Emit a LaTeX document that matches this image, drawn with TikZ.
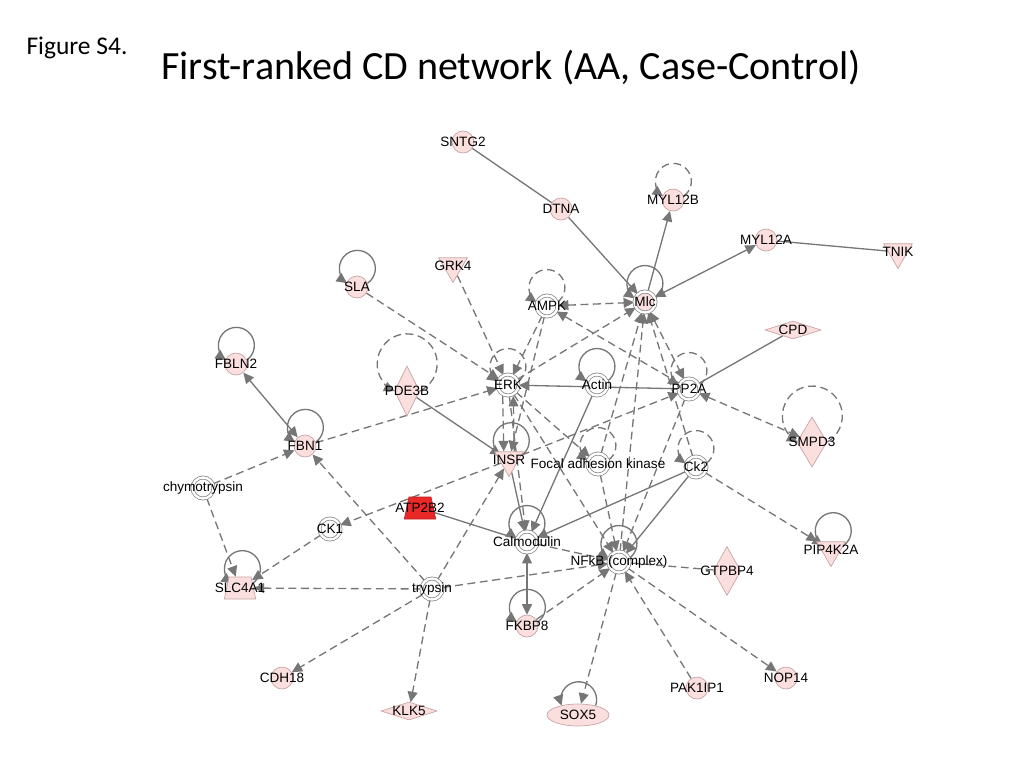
\documentclass[tikz,border=0pt]{standalone}
\usepackage{fontspec}
\setmainfont{Liberation Sans}
\newfontfamily\calibri{Carlito}
\usetikzlibrary{shapes.geometric,arrows.meta,backgrounds}
\definecolor{pinkfill}{RGB}{251,222,222}
\definecolor{pinkline}{RGB}{200,165,165}
\definecolor{edgegray}{RGB}{118,118,118}
\definecolor{atpred}{RGB}{235,40,40}
\tikzset{
 lbl/.style={font=\fontsize{7.7}{8}\selectfont, inner sep=0pt},
 gene/.style={circle, draw=pinkline, fill=pinkfill, minimum size=0.44cm, inner sep=0pt},
 cplx/.style={circle, draw=gray!90, line width=0.45pt, double=white, double distance=1.3pt, fill=white, minimum size=0.42cm, inner sep=0pt},
 tri/.style={regular polygon, regular polygon sides=3, shape border rotate=180, draw=pinkline, fill=pinkfill, minimum size=0.66cm, inner sep=0pt},
 dia/.style={diamond, draw=pinkline, fill=pinkfill, inner sep=0pt},
 trap/.style={trapezium, trapezium left angle=78, trapezium right angle=78, draw=pinkline, fill=pinkfill, minimum width=0.52cm, minimum height=0.44cm, inner sep=1pt},
 rel/.style={draw=edgegray, line width=0.75pt},
 arr/.style={rel, -{Triangle[length=2.1mm,width=2mm]}},
 barr/.style={rel, {Triangle[length=2.1mm,width=2mm]}-{Triangle[length=2.1mm,width=2mm]}},
 dsh/.style={dash pattern=on 4.5pt off 2.6pt}
}
\begin{document}
\begin{tikzpicture}[x=0.02cm,y=-0.02cm]
\useasboundingbox (0,0) rectangle (1024,768);
\node[font=\calibri\fontsize{14.5}{16}\selectfont] (figlabel) at (77,48) {Figure S4.};
\node[font=\calibri\fontsize{22.8}{26}\selectfont] (title) at (511,68) {First-ranked CD network (AA, Case-Control)};
\node[gene, label={[lbl]center:SNTG2}] (SNTG2) at (463,142) {};
\node[gene, label={[lbl]center:DTNA}] (DTNA) at (561,209) {};
\node[gene, label={[lbl]center:MYL12B}] (MYL12B) at (673,200) {};
\node[gene, label={[lbl]center:MYL12A}] (MYL12A) at (766,240) {};
\node[tri, label={[lbl]center:TNIK}] (TNIK) at (898,252) {};
\node[gene, label={[lbl]center:SLA}] (SLA) at (357,287) {};
\node[tri, label={[lbl]center:GRK4}] (GRK4) at (453,266) {};
\node[cplx, label={[lbl]center:AMPK}] (AMPK) at (547,306) {};
\node[cplx, fill=pinkfill, label={[lbl]center:Mlc}] (Mlc) at (645,302) {};
\node[dia, minimum width=1.12cm, minimum height=0.36cm, label={[lbl]center:CPD}] (CPD) at (793,330) {};
\node[gene, label={[lbl]center:FBLN2}] (FBLN2) at (236,364) {};
\node[dia, minimum width=0.5cm, minimum height=1.0cm, label={[lbl]center:PDE3B}] (PDE3B) at (407,391) {};
\node[cplx, label={[lbl]center:ERK}] (ERK) at (508,385) {};
\node[cplx, label={[lbl]center:Actin}] (Actin) at (597,385) {};
\node[cplx, label={[lbl]center:PP2A}] (PP2A) at (689,389) {};
\node[dia, minimum width=0.6cm, minimum height=1.0cm, label={[lbl]center:SMPD3}] (SMPD3) at (812,442) {};
\node[gene, label={[lbl]center:FBN1}] (FBN1) at (305,446) {};
\node[tri, label={[lbl]center:INSR}] (INSR) at (509,460) {};
\node[cplx, label={[lbl]center:Focal adhesion kinase}] (FAK) at (598,464) {};
\node[cplx, label={[lbl]center:Ck2}] (Ck2) at (696,467) {};
\node[cplx, label={[lbl]center:chymotrypsin}] (chymotrypsin) at (203,488) {};
\node[trap, fill=atpred, draw=atpred!80!black, label={[lbl]center:ATP2B2}] (ATP2B2) at (420,508) {};
\node[cplx, label={[lbl]center:CK1}] (CK1) at (330,529) {};
\node[cplx, label={[lbl]center:Calmodulin}] (Calmodulin) at (527,542) {};
\node[tri, label={[lbl]center:PIP4K2A}] (PIP4K2A) at (831,550) {};
\node[cplx, label={[lbl]center:NFkB (complex)}] (NFkB) at (619,562) {};
\node[dia, minimum width=0.55cm, minimum height=0.98cm, label={[lbl]center:GTPBP4}] (GTPBP4) at (727,571) {};
\node[trap, label={[lbl]center:SLC4A1}] (SLC4A1) at (240,588) {};
\node[cplx, label={[lbl]center:trypsin}] (trypsin) at (432,589) {};
\node[gene, label={[lbl]center:FKBP8}] (FKBP8) at (527,626) {};
\node[gene, label={[lbl]center:CDH18}] (CDH18) at (282,678) {};
\node[gene, label={[lbl]center:NOP14}] (NOP14) at (786,678) {};
\node[gene, label={[lbl]center:PAK1IP1}] (PAK1IP1) at (697,688) {};
\node[dia, minimum width=1.12cm, minimum height=0.36cm, label={[lbl]center:KLK5}] (KLK5) at (409,711) {};
\node[ellipse, draw=pinkline, fill=pinkfill, minimum width=1.24cm, minimum height=0.44cm, inner sep=0pt, label={[lbl]center:SOX5}] (SOX5) at (578,715) {};
\begin{scope}[on background layer]
\draw[rel] (SNTG2) -- (DTNA);
\draw[arr] (DTNA) -- (Mlc);
\draw[arr] (Mlc) -- (MYL12B);
\draw[barr] (Mlc) -- (MYL12A);
\draw[rel] (MYL12A) -- (TNIK);
\draw[rel] (CPD) -- (PP2A);
\draw[barr] (FBLN2) -- (FBN1);
\draw[rel] (PDE3B) -- (INSR);
\draw[rel] (ATP2B2) -- (Calmodulin);
\draw[arr] (PP2A) -- (ERK);
\draw[arr] (Actin) -- (Calmodulin);
\draw[arr] (INSR) -- (Calmodulin);
\draw[arr] (Ck2) -- (Calmodulin);
\draw[arr] (Ck2) -- (NFkB);
\draw[barr] (Calmodulin) -- (FKBP8);
\draw[arr,dsh] (SLA) -- (ERK);
\draw[arr,dsh] (GRK4) -- (ERK);
\draw[arr,dsh] (AMPK) -- (ERK);
\draw[arr,dsh] (AMPK) -- (INSR);
\draw[barr,dsh] (AMPK) -- (Mlc);
\draw[arr,dsh] (PP2A) -- (AMPK);
\draw[arr,dsh] (ERK) -- (Mlc);
\draw[arr,dsh] (FAK) -- (Mlc);
\draw[arr,dsh] (NFkB) -- (Mlc);
\draw[barr,dsh] (Mlc) -- (PP2A);
\draw[arr,dsh] (Ck2) -- (Mlc);
\draw[arr,dsh] ([xshift=-3pt]ERK.south) -- ([xshift=-3pt]INSR.north);
\draw[arr,dsh] ([xshift=3pt]INSR.north) -- ([xshift=3pt]ERK.south);
\draw[arr,dsh] (ERK) -- (FAK);
\draw[arr,dsh] (ERK) -- (NFkB);
\draw[arr,dsh] (ERK) -- (Calmodulin);
\draw[arr,dsh] (INSR) -- (PP2A);
\draw[arr,dsh] (FBN1) -- (ERK);
\draw[arr,dsh] (INSR) -- (CK1);
\draw[arr,dsh] (trypsin) -- (INSR);
\draw[arr,dsh] (trypsin) -- (FBN1);
\draw[arr,dsh] (trypsin) -- (SLC4A1);
\draw[arr,dsh] (trypsin) -- (NFkB);
\draw[arr,dsh] (trypsin) -- (CDH18);
\draw[arr,dsh] (trypsin) -- (KLK5);
\draw[arr,dsh] (chymotrypsin) -- (FBN1);
\draw[arr,dsh] (chymotrypsin) -- (SLC4A1);
\draw[arr,dsh] (CK1) -- (SLC4A1);
\draw[arr,dsh] (FKBP8) -- (NFkB);
\draw[arr,dsh] (NFkB) -- (SOX5);
\draw[arr,dsh] (PAK1IP1) -- (NFkB);
\draw[arr,dsh] (NFkB) -- (NOP14);
\draw[rel,dsh] (GTPBP4) -- (NFkB);
\draw[arr,dsh] (Ck2) -- (PIP4K2A);
\draw[barr,dsh] (PP2A) -- (SMPD3);
\draw[arr,dsh] (PP2A) -- (NFkB);
\draw[arr,dsh] (FAK) -- (NFkB);
\draw[arr,dsh] (Calmodulin) -- (NFkB);
\draw[arr] (SLA.20) arc[start angle=-55,end angle=235,radius=0.36cm];
\draw[arr] (FBLN2.20) arc[start angle=-55,end angle=235,radius=0.36cm];
\draw[arr] (FBN1.20) arc[start angle=-55,end angle=235,radius=0.36cm];
\draw[arr,dsh] (MYL12B.20) arc[start angle=-55,end angle=235,radius=0.36cm];
\draw[arr,dsh] (AMPK.20) arc[start angle=-55,end angle=235,radius=0.36cm];
\draw[arr] (Mlc.20) arc[start angle=-55,end angle=235,radius=0.36cm];
\draw[arr,dsh] (ERK.20) arc[start angle=-55,end angle=235,radius=0.36cm];
\draw[arr] (Actin.20) arc[start angle=-55,end angle=235,radius=0.36cm];
\draw[arr,dsh] (PP2A.20) arc[start angle=-55,end angle=235,radius=0.36cm];
\draw[arr] (INSR.20) arc[start angle=-55,end angle=235,radius=0.36cm];
\draw[arr,dsh] (FAK.20) arc[start angle=-55,end angle=235,radius=0.36cm];
\draw[arr,dsh] (Ck2.20) arc[start angle=-55,end angle=235,radius=0.36cm];
\draw[arr] (Calmodulin.20) arc[start angle=-55,end angle=235,radius=0.36cm];
\draw[arr] (NFkB.20) arc[start angle=-55,end angle=235,radius=0.36cm];
\draw[arr] (PIP4K2A.20) arc[start angle=-55,end angle=235,radius=0.36cm];
\draw[arr] (SLC4A1.20) arc[start angle=-55,end angle=235,radius=0.36cm];
\draw[arr] (FKBP8.20) arc[start angle=-55,end angle=235,radius=0.36cm];
\draw[arr] (SOX5.28) arc[start angle=-19,end angle=199,radius=0.36cm];
\draw[arr,dsh] (PDE3B.east) arc[start angle=-65,end angle=245,radius=0.6cm];
\draw[arr,dsh] (SMPD3.east) arc[start angle=-60,end angle=240,radius=0.6cm];
\end{scope}
\end{tikzpicture}
\end{document}
